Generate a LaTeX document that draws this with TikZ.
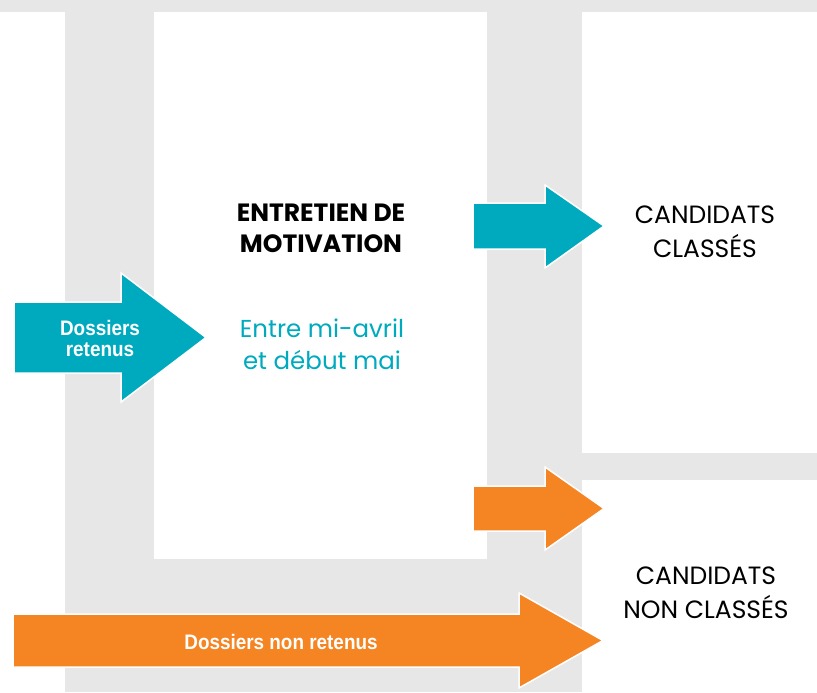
\documentclass[tikz,border=0pt]{standalone}
\usepackage{fontspec}
\setmainfont{Poppins}
\newfontfamily\condfont[FakeStretch=0.9]{Liberation Sans}
\definecolor{fond}{RGB}{231,231,232}
\definecolor{bleu}{RGB}{0,170,190}
\definecolor{orange}{RGB}{245,132,35}
\tikzset{
  fleche/.style={draw=white,line width=1.5pt,line join=miter},
  titre/.style={align=center,font=\fontsize{25}{31}\selectfont\bfseries},
  periode/.style={align=center,text=bleu,font=\fontsize{24.5}{32}\selectfont},
  issue/.style={align=center,font=\fontsize{25}{34}\selectfont},
  etiquette/.style={align=center,text=white,font=\condfont\fontsize{21}{21}\selectfont\bfseries}
}
\begin{document}
\begin{tikzpicture}[x=1pt,y=-1pt]
		\useasboundingbox (0,0) rectangle (817,693);
		\fill[fond] (0,0) rectangle (817,12);
		\fill[fond] (65,12) rectangle (582,692);
		\fill[fond] (582,453) rectangle (817,480);
		\fill[white] (154,12) rectangle (487,559);
		\draw[fleche,fill=bleu] (14,302) -- (121,302) -- (121,273) -- (206,337.5) -- (121,402) -- (121,373) -- (14,373) -- cycle;
		\draw[fleche,fill=bleu] (473,203) -- (545,203) -- (545,185) -- (604,226) -- (545,268) -- (545,249) -- (473,249) -- cycle;
		\draw[fleche,fill=orange] (473,486) -- (545,486) -- (545,467) -- (604,508.5) -- (545,550) -- (545,531) -- (473,531) -- cycle;
		\draw[fleche,fill=orange] (13,614) -- (519,614) -- (519,593) -- (603,640.5) -- (519,688) -- (519,667) -- (13,667) -- cycle;
		\node[titre] (entretien) at (321,228) {ENTRETIEN DE\\MOTIVATION};
		\node[periode] (dates) at (322,344) {Entre mi-avril\\et début mai};
		\node[issue] (classes) at (705,232) {CANDIDATS\\CLASSÉS};
		\node[issue] (nonclasses) at (706,593) {CANDIDATS\\NON CLASSÉS};
		\node[etiquette] (retenus) at (100,338) {Dossiers\\retenus};
		\node[etiquette] (nonretenus) at (281,642) {Dossiers non retenus};
	\end{tikzpicture}
\end{document}
